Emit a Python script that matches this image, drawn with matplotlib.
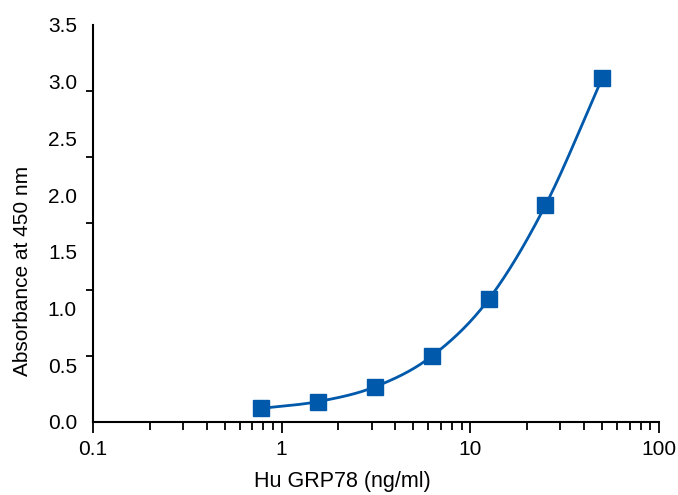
import numpy as np
import matplotlib
matplotlib.use("Agg")
import matplotlib.pyplot as plt

conc = [0.78, 1.56, 3.125, 6.25, 12.5, 25, 50]
absorb = [0.12, 0.18, 0.31, 0.58, 1.08, 1.91, 3.03]
ylabels = [0.0, 0.5, 1.0, 1.5, 2.0, 2.5, 3.0, 3.5]
# the tick marks on the y axis don't line up with the labels in the original
ymarks = np.linspace(0, 3.5, 7)
xticks = [0.1, 1, 10, 100]
xticklabels = ["0.1", "1", "10", "100"]

blue = "#0059AA"


def smooth(xs, ys, n=30):
    # catmull-rom through points, in log-x space
    lx = np.log10(xs)
    ys = np.asarray(ys, float)
    px = np.concatenate([[2 * lx[0] - lx[1]], lx, [2 * lx[-1] - lx[-2]]])
    py = np.concatenate([[2 * ys[0] - ys[1]], ys, [2 * ys[-1] - ys[-2]]])
    outx, outy = [], []
    t = np.linspace(0, 1, n)
    for i in range(1, len(px) - 2):
        for p, out in ((px, outx), (py, outy)):
            p0, p1, p2, p3 = p[i - 1], p[i], p[i + 1], p[i + 2]
            out.extend(0.5 * (2 * p1 + (-p0 + p2) * t
                              + (2 * p0 - 5 * p1 + 4 * p2 - p3) * t ** 2
                              + (-p0 + 3 * p1 - 3 * p2 + p3) * t ** 3))
    return 10 ** np.array(outx), np.array(outy)


plt.rcParams["font.family"] = ["Liberation Sans", "DejaVu Sans"]
fig = plt.figure(figsize=(6.78, 4.95), dpi=100)
ax = fig.add_axes([0.137, 0.1475, 0.835, 0.802])

cx, cy = smooth(conc, absorb)
ax.plot(cx, cy, color=blue, lw=2.0, zorder=2)
ax.plot(conc, absorb, ls="none", marker="s", ms=11.5, color=blue, zorder=3,
        clip_on=False)

ax.set_xscale("log")
ax.set_xlim(0.1, 100)
ax.set_ylim(0, 3.5)
ax.set_xticks(xticks)
ax.set_xticklabels(xticklabels)
ax.set_yticks(ylabels)
ax.set_yticklabels([f"{v:.1f}" for v in ylabels])
ax.set_yticks(ymarks, minor=True)
ax.spines["top"].set_visible(False)
ax.spines["right"].set_visible(False)
for s in ("left", "bottom"):
    ax.spines[s].set_linewidth(1.5)

ax.tick_params(axis="y", which="major", length=0, labelsize=15, pad=11.5)
ax.tick_params(axis="y", which="minor", direction="out", length=5, width=1.3,
               labelleft=False)
ax.tick_params(axis="x", which="major", direction="out", length=8, width=1.3,
               labelsize=15, pad=5)
ax.tick_params(axis="x", which="minor", direction="out", length=6, width=1.3)

ax.set_ylabel("Absorbance at 450 nm", fontsize=15)
ax.set_xlabel("Hu GRP78 (ng/ml)", fontsize=15.5)
ax.yaxis.set_label_coords(-0.108, 0.38)
ax.xaxis.set_label_coords(0.44, -0.124)

fig.savefig("out.png", dpi=100)
